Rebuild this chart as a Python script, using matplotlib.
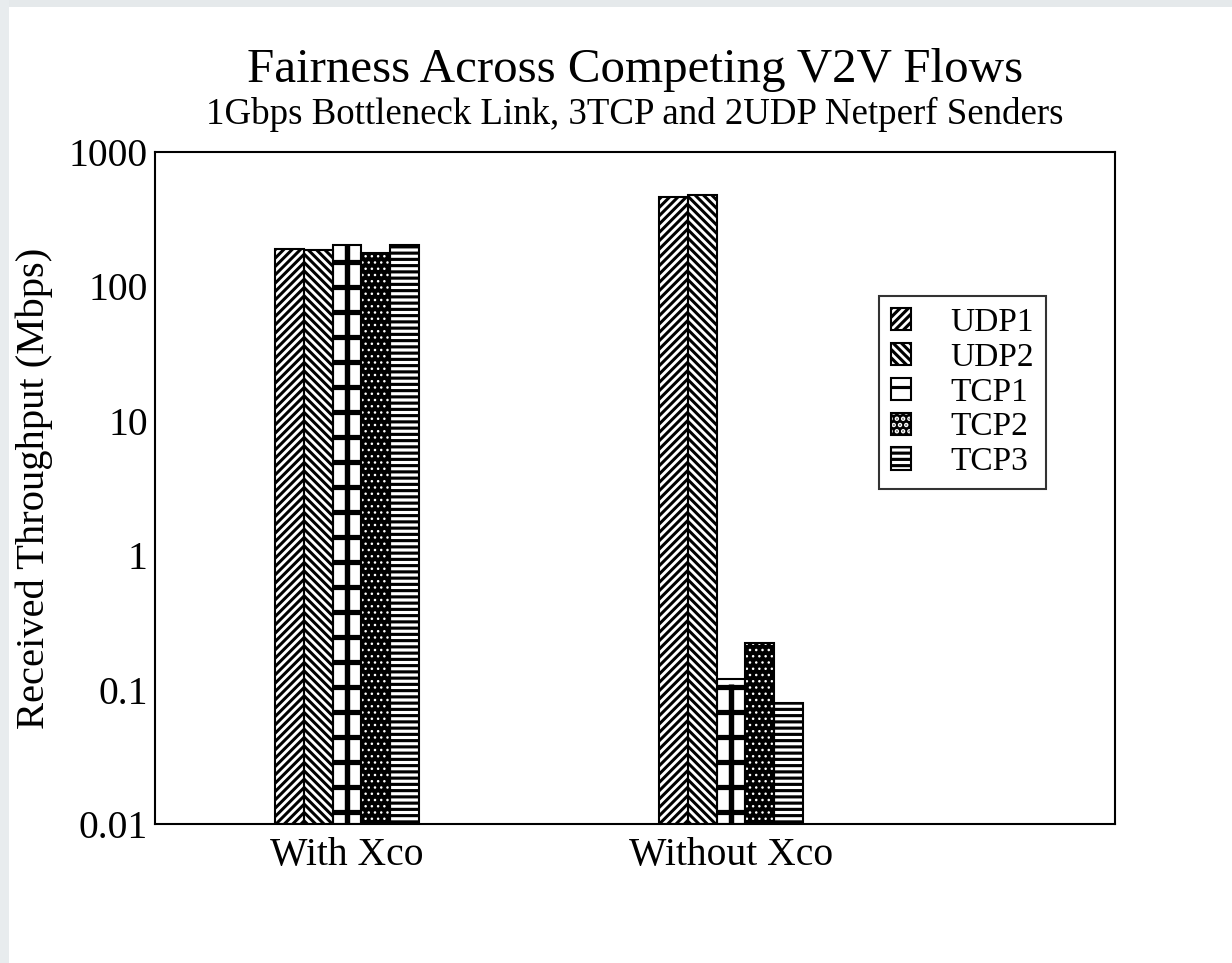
import numpy as np
import matplotlib.pyplot as plt
from matplotlib.patches import Rectangle, Patch
from matplotlib.legend_handler import HandlerTuple

plt.rcParams['font.family'] = ['Liberation Serif', 'DejaVu Serif']
plt.rcParams['hatch.linewidth'] = 1.5

# received throughput (Mbps) per flow, for each setup
groups = ['With Xco', 'Without Xco']
flows = ['UDP1', 'UDP2', 'TCP1', 'TCP2', 'TCP3']
udp1 = [190, 462]
udp2 = [185, 479]
tcp1 = [203, 0.110]
tcp2 = [177, 0.211]
tcp3 = [203, 0.070]
series = [udp1, udp2, tcp1, tcp2, tcp3]
yticks = [0.01, 0.1, 1, 10, 100, 1000]
ytick_labels = ['0.01', '0.1', '1', '10', '100', '1000']

# hatch pattern, face colour, hatch colour, hatch width for each flow
styles = [('//////', 'white', 'black', 1.45),
          ('\\' * 6, 'white', 'black', 1.45),
          ('-', 'white', 'black', 2.5),
          ('....', 'black', 'white', 0.6),
          ('----', 'white', 'black', 1.5)]

fig = plt.figure(figsize=(1232 / 150, 963 / 150), dpi=150)
fig.patch.set_facecolor('white')
# light frame strips along the top and left edges
fig.patches.append(Rectangle((0, 1 - 7 / 963), 1, 7 / 963, transform=fig.transFigure,
                             facecolor='#e5e9eb', edgecolor='none', zorder=-1))
fig.patches.append(Rectangle((0, 0), 9 / 1232, 1, transform=fig.transFigure,
                             facecolor='#e8ecee', edgecolor='none', zorder=-1))

ax = fig.add_axes([155 / 1232, 1 - 824 / 963, 960 / 1232, 672 / 963])
ax.set_yscale('log')

x = np.arange(len(groups))
w = 0.075
handles = []
for i, (vals, (hatch, face, hcol, hlw)) in enumerate(zip(series, styles)):
    pos = x + (i - 2) * w
    bars = ax.bar(pos, vals, width=w, bottom=0.01, facecolor=face, edgecolor=hcol,
                  hatch=hatch, linewidth=0, zorder=2)
    for b in bars:
        b.set_hatch_linewidth(hlw)
    if i == 2:
        # TCP1 cross: one thick vertical bar down the middle of each column
        ax.vlines(pos, 0.01, vals, colors='black', linewidth=2.6, zorder=2.5)
    ax.bar(pos, vals, width=w, bottom=0.01, fill=False, edgecolor='black',
           linewidth=1.0, zorder=3)
    fillp = Patch(facecolor=face, edgecolor=hcol, hatch='+' if i == 2 else hatch,
                  linewidth=0)
    fillp.set_hatch_linewidth(hlw)
    outline = Patch(fill=False, edgecolor='black', linewidth=1.0)
    handles.append((fillp, outline))

ax.set_xlim(-0.5, 2.0)
ax.set_ylim(0.01, 1000)
ax.set_yticks(yticks)
ax.set_yticklabels(ytick_labels)
ax.minorticks_off()
ax.set_xticks(x)
ax.set_xticklabels(groups)
ax.tick_params(axis='both', length=0, labelsize=19)
ax.tick_params(axis='y', pad=3.5)
ax.tick_params(axis='x', pad=6)
for s in ax.spines.values():
    s.set_linewidth(1.0)

ax.set_ylabel('Received Throughput (Mbps)', fontsize=19.5)
ax.yaxis.set_label_coords(-0.106, 0.5)

fig.text(0.5155, 1 - 70 / 963, 'Fairness Across Competing V2V Flows',
         ha='center', va='center', fontsize=23.5)
fig.text(0.5155, 1 - 114 / 963, '1Gbps Bottleneck Link, 3TCP and 2UDP Netperf Senders',
         ha='center', va='center', fontsize=17.7)

leg = ax.legend(handles, flows, loc='upper right', bbox_to_anchor=(0.928, 0.786),
                handler_map={tuple: HandlerTuple(ndivide=1, pad=0)},
                fontsize=16, frameon=True, fancybox=False, edgecolor='black',
                handlelength=0.6, handleheight=0.65, handletextpad=1.2,
                labelspacing=0.13, borderpad=0.35, borderaxespad=0)
leg.get_frame().set_linewidth(1.0)

fig.savefig('out.png', dpi=150)
